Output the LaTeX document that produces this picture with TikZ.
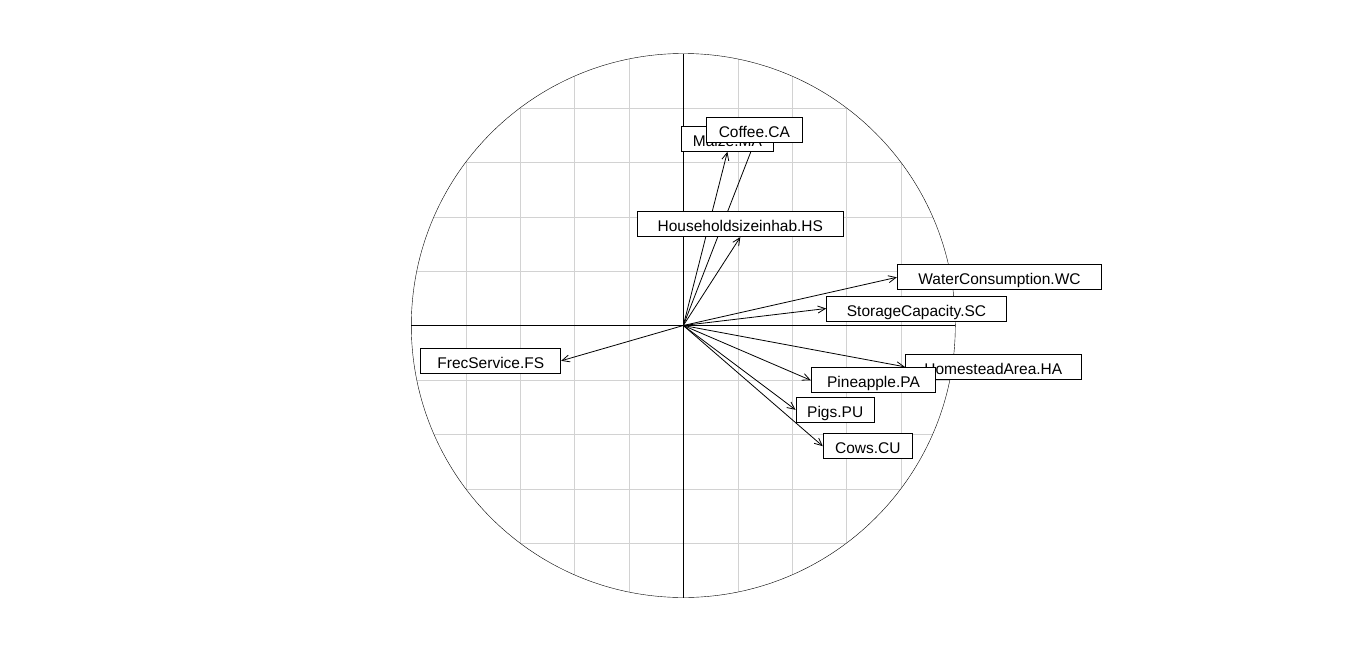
\documentclass[tikz,border=0pt]{standalone}
\usepackage{fontspec}
\setmainfont{Liberation Sans}
\usetikzlibrary{arrows.meta,backgrounds}

\begin{document}
\begin{tikzpicture}[x=1pt,y=-1pt,line width=1pt,
  lab/.style={draw,fill=white,font=\fontsize{15.5}{18}\selectfont,
    inner sep=0pt,text height=15pt,text depth=0pt,minimum height=25pt},
  vec/.style={-{Straight Barb[length=7.5pt,width=7pt]},line width=0.8pt}]
\useasboundingbox (0,0) rectangle (1366,651);
\coordinate (O) at (683.3,325.5);
% labels
\node (MA) at (727.4,138.8) [lab,minimum width=91.8pt] {Maize.MA};
\node (CA) at (754.4,129.6) [lab,minimum width=96.2pt] {Coffee.CA};
\node (HS) at (740.3,224.1) [lab,minimum width=206pt] {Householdsizeinhab.HS};
\node (WC) at (999.5,277.3) [lab,minimum width=204.4pt] {WaterConsumption.WC};
\node (SC) at (916.5,308.5) [lab,minimum width=179.6pt] {StorageCapacity.SC};
\node (HA) at (993.3,366.8) [lab,minimum width=176pt] {HomesteadArea.HA};
\node (PA) at (873.5,380.3) [lab,minimum width=124.4pt] {Pineapple.PA};
\node (PU) at (835.2,409.8) [lab,minimum width=78.3pt] {Pigs.PU};
\node (CU) at (867.8,446.2) [lab,minimum width=89pt] {Cows.CU};
\node (FS) at (490.8,360.8) [lab,minimum width=139.7pt] {FrecService.FS};
\begin{scope}[on background layer]
% grid clipped to the circle
\begin{scope}
\clip (O) circle (272);
\foreach \k in {-4,...,4} {
  \draw[gray!35] ([xshift=\k*54.4pt]O) ++(0,-272) -- ++(0,544);
  \draw[gray!35] ([yshift=-\k*54.4pt]O) ++(-272,0) -- ++(544,0);
}
\end{scope}
\draw (O) ++(-272,0) -- ++(544,0);
\draw (O) ++(0,-272) -- ++(0,544);
\draw (O) circle (272);
% arrows
\foreach \n in {MA,CA,HS}
  \draw[vec] (O) -- (\n.south);
\foreach \n in {WC,SC,HA,PA,PU,CU}
  \draw[vec] (O) -- (\n.west);
\draw[vec] (O) -- (FS.east);
\end{scope}
\end{tikzpicture}
\end{document}
